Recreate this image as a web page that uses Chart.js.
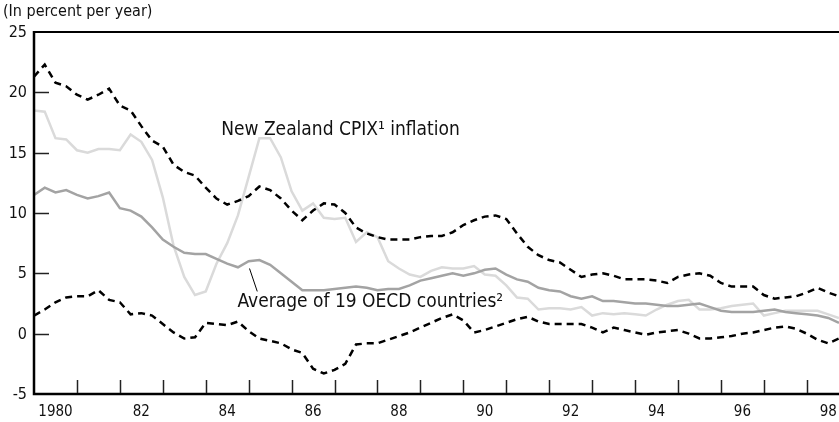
<!DOCTYPE html>
<html>
<head>
<meta charset="utf-8">
<script src="https://cdn.jsdelivr.net/npm/chart.js@4/dist/chart.umd.min.js"></script>
<style>
  html, body { margin: 0; padding: 0; background: #fff; }
  #chart { display: block; }
</style>
</head>
<body>
<canvas id="chart" width="839" height="422"></canvas>
<script>
// --- DATA (quarterly, 1980Q1 .. 1998Q4) ---
const START_YEAR = 1980;

// upper and lower bounds of the target band (dashed)
const upperBand = [
  21.3, 22.3, 20.8, 20.5, 19.8, 19.4, 19.8, 20.3, 18.9, 18.5,
  17.2, 16.0, 15.5, 14.0, 13.4, 13.1, 12.1, 11.2, 10.7, 11.0,
  11.4, 12.2, 11.9, 11.2, 10.2, 9.4, 10.2, 10.8, 10.7, 10.0,
  8.8, 8.3, 8.0, 7.8, 7.8, 7.8, 8.0, 8.1, 8.1, 8.4,
  9.0, 9.4, 9.7, 9.8, 9.5, 8.3, 7.2, 6.5, 6.1, 5.9,
  5.3, 4.7, 4.9, 5.0, 4.8, 4.5, 4.5, 4.5, 4.4, 4.2,
  4.7, 4.9, 5.0, 4.8, 4.2, 3.9, 3.9, 3.9, 3.2, 2.9,
  3.0, 3.1, 3.4, 3.8, 3.4, 3.1
];
const lowerBand = [
  1.5, 2.0, 2.6, 3.0, 3.1, 3.1, 3.6, 2.8, 2.6, 1.6,
  1.7, 1.5, 0.8, 0.1, -0.4, -0.3, 0.9, 0.8, 0.7, 1.0,
  0.2, -0.4, -0.6, -0.8, -1.3, -1.6, -2.9, -3.3, -3.0, -2.5,
  -0.9, -0.8, -0.8, -0.5, -0.2, 0.1, 0.5, 0.9, 1.3, 1.6,
  1.1, 0.1, 0.3, 0.6, 0.9, 1.2, 1.4, 1.0, 0.8, 0.8,
  0.8, 0.8, 0.5, 0.1, 0.5, 0.3, 0.1, -0.1, 0.1, 0.2,
  0.3, 0.0, -0.4, -0.4, -0.3, -0.2, 0.0, 0.1, 0.3, 0.5,
  0.6, 0.4, 0.0, -0.5, -0.8, -0.4
];
const nzCpix = [
  18.5, 18.4, 16.2, 16.1, 15.2, 15.0, 15.3, 15.3, 15.2, 16.5,
  15.9, 14.4, 11.3, 7.3, 4.7, 3.2, 3.5, 5.8, 7.5, 9.8,
  13.0, 16.2, 16.2, 14.6, 11.8, 10.2, 10.8, 9.6, 9.5, 9.6,
  7.6, 8.4, 8.0, 6.0, 5.4, 4.9, 4.7, 5.2, 5.5, 5.4,
  5.4, 5.6, 4.9, 4.8, 4.0, 3.0, 2.9, 2.0, 2.1, 2.1,
  2.0, 2.2, 1.5, 1.7, 1.6, 1.7, 1.6, 1.5, 2.0, 2.4,
  2.7, 2.8, 2.0, 2.0, 2.1, 2.3, 2.4, 2.5, 1.5, 1.7,
  1.9, 1.9, 1.9, 1.9, 1.6, 1.3
];
const oecdAvg = [
  11.5, 12.1, 11.7, 11.9, 11.5, 11.2, 11.4, 11.7, 10.4, 10.2,
  9.7, 8.8, 7.8, 7.2, 6.7, 6.6, 6.6, 6.2, 5.8, 5.5,
  6.0, 6.1, 5.7, 5.0, 4.3, 3.6, 3.6, 3.6, 3.7, 3.8,
  3.9, 3.8, 3.6, 3.7, 3.7, 4.0, 4.4, 4.6, 4.8, 5.0,
  4.8, 5.0, 5.3, 5.4, 4.9, 4.5, 4.3, 3.8, 3.6, 3.5,
  3.1, 2.9, 3.1, 2.7, 2.7, 2.6, 2.5, 2.5, 2.4, 2.3,
  2.3, 2.4, 2.5, 2.2, 1.9, 1.8, 1.8, 1.8, 1.9, 2.0,
  1.8, 1.7, 1.6, 1.5, 1.3, 0.9
];

// axis ticks
const yTicks = [25, 20, 15, 10, 5, 0, -5];
const xLabelYears = [1980, 1982, 1984, 1986, 1988, 1990, 1992, 1994, 1996, 1998];
const xTickLabels = ['1980', '82', '84', '86', '88', '90', '92', '94', '96', '98'];
const X_MIN = 1980, X_MAX = 1998.75;

// quarter positions on the time axis
const quarters = upperBand.map((_, i) => START_YEAR + i / 4);
const toPoints = (vals) => vals.map((v, i) => ({ x: quarters[i], y: v }));

const FONT = '"Liberation Sans Narrow", "DejaVu Sans Condensed", "Arial Narrow", sans-serif';

// --- frame, ticks and text, drawn with the chart's own scales ---
const framePlugin = {
  id: 'frame',
  afterDatasetsDraw(chart) {
    const { ctx, chartArea: a, scales: { x, y } } = chart;
    ctx.save();
    ctx.strokeStyle = '#000';
    ctx.lineCap = 'butt';

    // top border
    ctx.lineWidth = 2;
    ctx.beginPath(); ctx.moveTo(a.left, a.top); ctx.lineTo(a.right, a.top); ctx.stroke();
    // left + bottom axes
    ctx.lineWidth = 2.5;
    ctx.beginPath(); ctx.moveTo(a.left, a.top - 1); ctx.lineTo(a.left, a.bottom); ctx.lineTo(a.right, a.bottom); ctx.stroke();

    // y tick marks (inside)
    ctx.lineWidth = 1.5;
    ctx.strokeStyle = '#222';
    yTicks.forEach(v => {
      if (v === 25 || v === -5) return;
      const py = Math.round(y.getPixelForValue(v)) + 0.5;
      ctx.beginPath(); ctx.moveTo(a.left + 1, py); ctx.lineTo(a.left + 15, py); ctx.stroke();
    });
    // x tick marks at year boundaries (inside, pointing up)
    for (let yr = 1981; yr <= 1998; yr++) {
      const px = Math.round(x.getPixelForValue(yr)) + 0.5;
      ctx.beginPath(); ctx.moveTo(px, a.bottom - 1); ctx.lineTo(px, a.bottom - 14); ctx.stroke();
    }

    // y labels
    ctx.fillStyle = '#111';
    ctx.font = '16px ' + FONT;
    ctx.textAlign = 'right';
    ctx.textBaseline = 'middle';
    yTicks.forEach(v => ctx.fillText(String(v), a.left - 7, y.getPixelForValue(v) + 1));

    // x labels centred in their year
    ctx.font = '15px ' + FONT;
    ctx.textAlign = 'center';
    ctx.textBaseline = 'middle';
    xLabelYears.forEach((yr, i) => ctx.fillText(xTickLabels[i], x.getPixelForValue(yr + 0.5), a.bottom + 18));

    // unit note
    ctx.textAlign = 'left';
    ctx.font = '16px ' + FONT;
    ctx.fillText('(In percent per year)', 3, 12);

    // series annotations
    ctx.font = '19px ' + FONT;
    ctx.fillText('New Zealand CPIX\u00b9 inflation', x.getPixelForValue(1984.36), y.getPixelForValue(16.9));
    ctx.fillText('Average of 19 OECD countries\u00b2', x.getPixelForValue(1984.74), y.getPixelForValue(2.6));

    // leader line to the OECD series
    ctx.lineWidth = 1;
    ctx.strokeStyle = '#000';
    ctx.beginPath();
    ctx.moveTo(x.getPixelForValue(1985.02), y.getPixelForValue(5.4));
    ctx.lineTo(x.getPixelForValue(1985.2), y.getPixelForValue(3.5));
    ctx.stroke();
    ctx.restore();
  }
};

const lineSet = (label, vals, color, dash) => ({
  label,
  data: toPoints(vals),
  borderColor: color,
  borderWidth: 2.5,
  borderDash: dash || [],
  pointRadius: 0,
  tension: 0,
  fill: false
});

new Chart(document.getElementById('chart'), {
  type: 'line',
  data: {
    datasets: [
      lineSet('Upper band', upperBand, '#000', [7, 5]),
      lineSet('Lower band', lowerBand, '#000', [7, 5]),
      lineSet('OECD average', oecdAvg, '#a3a3a3'),
      lineSet('New Zealand CPIX', nzCpix, '#dadada')
    ]
  },
  options: {
    responsive: false,
    animation: false,
    devicePixelRatio: 1,
    layout: { padding: { left: 34, top: 32, right: 0, bottom: 28 } },
    plugins: { legend: { display: false }, tooltip: { enabled: false } },
    scales: {
      x: { type: 'linear', min: X_MIN, max: X_MAX, display: false },
      y: { type: 'linear', min: -5, max: 25, display: false }
    }
  },
  plugins: [framePlugin]
});
</script>
</body>
</html>
